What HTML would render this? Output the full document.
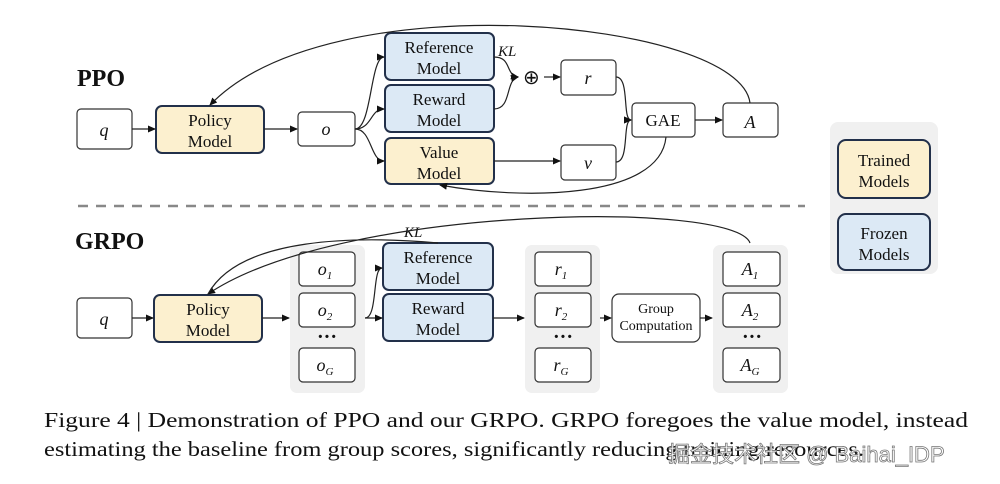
<!DOCTYPE html>
<html><head><meta charset="utf-8"><style>
html,body{margin:0;padding:0;background:#fff;}
svg{display:block;}
text{font-family:"Liberation Serif",serif;fill:#111;}
.m{font-size:17px;text-anchor:middle;}
.i{font-style:italic;font-size:18px;text-anchor:middle;}
.b{fill:#fff;stroke:#333;stroke-width:1.2;}
.y{fill:#fcf0cf;stroke:#22304a;stroke-width:2;}
.bl{fill:#dce9f5;stroke:#22304a;stroke-width:2;}
.l{fill:none;stroke:#222;stroke-width:1.2;}
.p{fill:#f0f0f0;}
</style></head><body>
<svg width="1000" height="484" viewBox="0 0 1000 484" xmlns="http://www.w3.org/2000/svg">
<defs><marker id="a" markerWidth="8" markerHeight="8" refX="7" refY="4" orient="auto" markerUnits="userSpaceOnUse"><path d="M0,0.5 L8,4 L0,7.5z" fill="#111"/></marker></defs>

<text x="77" y="86" style="font-size:24px;font-weight:bold">PPO</text>
<text x="75" y="249" style="font-size:24px;font-weight:bold">GRPO</text>

<rect class="b" x="77" y="109" width="55" height="40" rx="4"/><text class="i" x="104" y="136">q</text>
<rect class="y" x="156" y="106" width="108" height="47" rx="6"/><text class="m" x="210" y="126">Policy</text><text class="m" x="210" y="147">Model</text>
<rect class="b" x="298" y="112" width="57" height="34" rx="4"/><text class="i" x="326" y="135">o</text>
<rect class="bl" x="385" y="33" width="109" height="47" rx="6"/><text class="m" x="439" y="53">Reference</text><text class="m" x="439" y="74">Model</text>
<rect class="bl" x="385" y="85" width="109" height="47" rx="6"/><text class="m" x="439" y="105">Reward</text><text class="m" x="439" y="126">Model</text>
<rect class="y" x="385" y="138" width="109" height="46" rx="6"/><text class="m" x="439" y="158">Value</text><text class="m" x="439" y="179">Model</text>
<text x="523" y="84" style="font-size:20px">⊕</text>
<text x="498" y="56" style="font-size:15px;font-style:italic">KL</text>
<rect class="b" x="561" y="60" width="55" height="35" rx="4"/><text class="i" x="588" y="84">r</text>
<rect class="b" x="561" y="145" width="55" height="35" rx="4"/><text class="i" x="588" y="169">v</text>
<rect class="b" x="632" y="103" width="63" height="34" rx="4"/><text class="m" x="663" y="126">GAE</text>
<rect class="b" x="723" y="103" width="55" height="34" rx="4"/><text class="i" x="750" y="128">A</text>

<path class="l" d="M132,129 H155" marker-end="url(#a)"/>
<path class="l" d="M264,129 H297" marker-end="url(#a)"/>
<path class="l" d="M355,129 C372,129 370,57 384,57" marker-end="url(#a)"/>
<path class="l" d="M355,129 C372,129 370,109 384,109" marker-end="url(#a)"/>
<path class="l" d="M355,129 C372,129 370,161 384,161" marker-end="url(#a)"/>
<path class="l" d="M494,57 C512,57 505,75 518,77" marker-end="url(#a)"/>
<path class="l" d="M494,109 C512,109 505,80 518,77" marker-end="url(#a)"/>
<path class="l" d="M544,77 H560" marker-end="url(#a)"/>
<path class="l" d="M494,161 H560" marker-end="url(#a)"/>
<path class="l" d="M616,77 C630,77 622,120 631,120" marker-end="url(#a)"/>
<path class="l" d="M616,162 C630,162 622,120 631,120" marker-end="url(#a)"/>
<path class="l" d="M695,120 H722" marker-end="url(#a)"/>
<path class="l" d="M750,103 C740,20 330,-20 210,105" marker-end="url(#a)"/>
<path class="l" d="M666,137 C660,200 520,200 440,185" marker-end="url(#a)"/>

<line x1="78" y1="206" x2="805" y2="206" stroke="#888" stroke-width="2.5" stroke-dasharray="10,8"/>

<rect class="p" x="830" y="122" width="108" height="152" rx="8"/>
<rect class="y" x="838" y="140" width="92" height="58" rx="8"/><text class="m" x="884" y="166">Trained</text><text class="m" x="884" y="187">Models</text>
<rect class="bl" x="838" y="214" width="92" height="56" rx="8"/><text class="m" x="884" y="239">Frozen</text><text class="m" x="884" y="260">Models</text>

<rect class="p" x="290" y="245" width="75" height="148" rx="7"/>
<rect class="p" x="525" y="245" width="75" height="148" rx="7"/>
<rect class="p" x="713" y="245" width="75" height="148" rx="7"/>

<rect class="b" x="77" y="298" width="55" height="40" rx="4"/><text class="i" x="104" y="325">q</text>
<rect class="y" x="154" y="295" width="108" height="47" rx="6"/><text class="m" x="208" y="315">Policy</text><text class="m" x="208" y="336">Model</text>

<rect class="b" x="299" y="252" width="56" height="34" rx="4"/><text class="i" x="325" y="275">o<tspan font-size="11" dy="4">1</tspan></text>
<rect class="b" x="299" y="293" width="56" height="34" rx="4"/><text class="i" x="325" y="316">o<tspan font-size="11" dy="4">2</tspan></text>
<text x="327" y="343" class="m" style="font-size:20px;font-weight:bold">···</text>
<rect class="b" x="299" y="348" width="56" height="34" rx="4"/><text class="i" x="325" y="371">o<tspan font-size="11" dy="4">G</tspan></text>

<rect class="bl" x="383" y="243" width="110" height="47" rx="6"/><text class="m" x="438" y="263">Reference</text><text class="m" x="438" y="284">Model</text>
<rect class="bl" x="383" y="294" width="110" height="47" rx="6"/><text class="m" x="438" y="314">Reward</text><text class="m" x="438" y="335">Model</text>
<text x="404" y="237" style="font-size:15px;font-style:italic">KL</text>

<rect class="b" x="535" y="252" width="56" height="34" rx="4"/><text class="i" x="561" y="275">r<tspan font-size="11" dy="4">1</tspan></text>
<rect class="b" x="535" y="293" width="56" height="34" rx="4"/><text class="i" x="561" y="316">r<tspan font-size="11" dy="4">2</tspan></text>
<text x="563" y="343" class="m" style="font-size:20px;font-weight:bold">···</text>
<rect class="b" x="535" y="348" width="56" height="34" rx="4"/><text class="i" x="561" y="371">r<tspan font-size="11" dy="4">G</tspan></text>

<rect class="b" x="612" y="294" width="88" height="48" rx="7"/><text x="656" y="313" style="font-size:14px;text-anchor:middle">Group</text><text x="656" y="330" style="font-size:14px;text-anchor:middle">Computation</text>

<rect class="b" x="723" y="252" width="57" height="34" rx="4"/><text class="i" x="750" y="275">A<tspan font-size="11" dy="4">1</tspan></text>
<rect class="b" x="723" y="293" width="57" height="34" rx="4"/><text class="i" x="750" y="316">A<tspan font-size="11" dy="4">2</tspan></text>
<text x="752" y="343" class="m" style="font-size:20px;font-weight:bold">···</text>
<rect class="b" x="723" y="348" width="57" height="34" rx="4"/><text class="i" x="750" y="371">A<tspan font-size="11" dy="4">G</tspan></text>

<path class="l" d="M132,318 H153" marker-end="url(#a)"/>
<path class="l" d="M262,318 H289" marker-end="url(#a)"/>
<path class="l" d="M365,318 C378,318 372,268 382,268" marker-end="url(#a)"/>
<path class="l" d="M365,318 H382" marker-end="url(#a)"/>
<path class="l" d="M493,318 H524" marker-end="url(#a)"/>
<path class="l" d="M600,318 H611" marker-end="url(#a)"/>
<path class="l" d="M700,318 H712" marker-end="url(#a)"/>
<path class="l" d="M750,243 C735,200 340,205 208,294" marker-end="url(#a)"/>
<path class="l" d="M438,243 C360,236 240,236 208,294"/>

<text x="44" y="427" style="font-size:21px" textLength="924" lengthAdjust="spacingAndGlyphs">Figure 4 | Demonstration of PPO and our GRPO. GRPO foregoes the value model, instead</text>
<text x="44" y="456" style="font-size:21px" textLength="820" lengthAdjust="spacingAndGlyphs">estimating the baseline from group scores, significantly reducing training resources.</text>
<text x="668" y="462" style="font-family:'Liberation Sans','Noto Sans CJK SC',sans-serif;font-size:22px;fill:#fff;stroke:#777;stroke-width:0.8">掘金技术社区 @ Baihai_IDP</text>
</svg>
</body></html>
